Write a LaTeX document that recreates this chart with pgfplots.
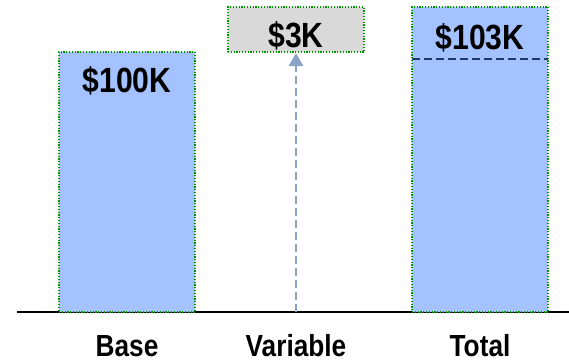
\documentclass[border=0pt]{standalone}
\usepackage{pgfplots}
\pgfplotsset{compat=1.18}
\usetikzlibrary{arrows.meta}
\usepackage{fontspec}
\setmainfont{Liberation Sans}
\newfontfamily\valfont[FakeStretch=0.86]{Liberation Sans Bold}
\newfontfamily\catfont[FakeStretch=0.86]{Liberation Sans Bold}

\definecolor{barblue}{RGB}{164,194,255}
\definecolor{boxgray}{RGB}{217,217,217}
\definecolor{edgegreen}{RGB}{0,150,0}
\definecolor{basenavy}{RGB}{31,56,100}
\definecolor{arrowblue}{RGB}{138,162,198}

\begin{document}
\begin{tikzpicture}
\path[use as bounding box] (-17pt,-49pt) rectangle (552pt,312pt);
\begin{axis}[
  at={(0,0)}, anchor=south west,
  scale only axis, width=552pt, height=305pt,
  xmin=17, xmax=569, ymin=0, enlarge y limits=false,
  % stretched scale above the base level so the small increment stays visible
  y coord trafo/.code={\pgfmathparse{(#1<=100)*2.6*#1+(#1>100)*(260+15*(#1-100))}},
  axis x line*=bottom, axis y line=none,
  axis line style={-, line width=1.5pt, black},
  xtick={127,296,480},
  xticklabels={Base,Variable,Total},
  major tick length=0pt,
  ytick=\empty,
  xticklabel style={font=\catfont\fontsize{30.5}{32}\selectfont, anchor=base, inner sep=0pt, yshift=-44pt},
  clip=false,
]
% base bar
\addplot[fill=barblue, draw=edgegreen, line width=1.1pt, dash pattern=on 1.2pt off 1.6pt]
  coordinates {(59,0) (195,0) (195,100) (59,100)} -- cycle;
% variable increment (floating)
\addplot[fill=boxgray, draw=edgegreen, line width=1.1pt, dash pattern=on 1.2pt off 1.6pt]
  coordinates {(228,100) (364,100) (364,103) (228,103)} -- cycle;
% total bar
\addplot[fill=barblue, draw=edgegreen, line width=1.1pt, dash pattern=on 1.2pt off 1.6pt]
  coordinates {(412,0) (548,0) (548,103) (412,103)} -- cycle;
% base level marker inside the total
\addplot[basenavy, line width=2.4pt, dash pattern=on 8pt off 4pt]
  coordinates {(412,97.3) (548,97.3)};
% arrow up to the increment
\addplot[arrowblue, line width=2.5pt, dash pattern=on 8pt off 4pt,
  -{Triangle[length=13pt,width=14pt]}]
  coordinates {(296,0) (296,99.6)};

\node[font=\valfont\fontsize{35}{40}\selectfont, anchor=base, inner sep=0pt, yshift=-41pt] at (axis cs:127,100) {\$100K};
\node[font=\valfont\fontsize{35}{40}\selectfont, anchor=base, inner sep=0pt, yshift=-41pt] at (axis cs:296,103) {\$3K};
\node[font=\valfont\fontsize{35}{40}\selectfont, anchor=base, inner sep=0pt, yshift=-43pt] at (axis cs:480,103) {\$103K};
\end{axis}
\end{tikzpicture}
\end{document}
